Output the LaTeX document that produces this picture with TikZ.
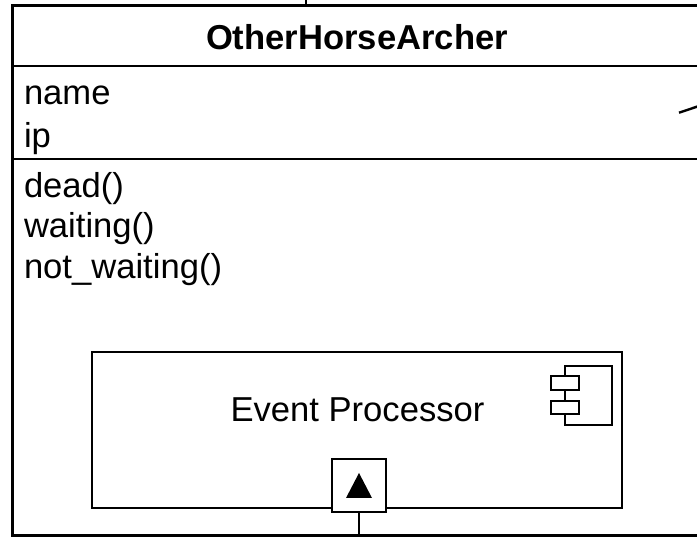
\documentclass[tikz,border=0pt]{standalone}
\usepackage{fontspec}
\setmainfont{Liberation Sans}
\begin{document}
\begin{tikzpicture}[x=1pt,y=-1pt,line join=miter,
  uml/.style={draw=black,line width=2.7pt,fill=white,inner sep=0pt,outer sep=0pt,rectangle,anchor=north west},
  wire/.style={draw=black,line width=2.7pt},
  thinwire/.style={draw=black,line width=2.4pt},
  label/.style={inner sep=0pt,outer sep=0pt,anchor=base west,font=\fontsize{34.6}{41}\selectfont},
  tri/.style={fill=black,draw=none}]
\useasboundingbox (0,0) rectangle (697,537);
\fill[white] (0,0) rectangle (697,537);
% class compartments
\node[uml,minimum width=720pt,minimum height=530pt] (class) at (12.5,5.5) {};
\draw[wire] (12.5,66) coordinate (h1) -- (720,66) coordinate (h2);
\draw[wire] (12.5,159) coordinate (a1) -- (720,159) coordinate (a2);
\node[inner sep=0pt,anchor=base,font=\fontsize{34.6}{41}\selectfont\bfseries] (title) at (357,49.5) {OtherHorseArcher};
\node[label] (attr1) at (24,105) {name};
\node[label] (attr2) at (24,147.5) {ip};
\node[label] (m1) at (24,198) {dead()};
\node[label] (m2) at (24,238) {waiting()};
\node[label] (m3) at (24,279) {not\_waiting()};
% external connectors
\coordinate (topend) at (306,0);
\draw[thinwire] (topend) -- (topend |- class.north);
\coordinate (rs) at (679,112.7);
\coordinate (re) at (705,104);
\draw[thinwire] (rs) -- (re);
% component
\node[uml,minimum width=530pt,minimum height=156pt] (comp) at (92,352) {};
\node[inner sep=0pt,anchor=base,font=\fontsize{34.6}{41}\selectfont] (complabel) at (357.5,421.5) {Event Processor};
\node[uml,minimum width=47pt,minimum height=59pt] (icon) at (565,366) {};
\node[uml,minimum width=28pt,minimum height=14pt] (pin1) at (551,376) {};
\node[uml,minimum width=28pt,minimum height=13pt] (pin2) at (551,401) {};
% port
\node[uml,minimum width=54pt,minimum height=53pt] (port) at (332,459) {};
\fill[tri] (359,473) coordinate (t1) -- (372,498) coordinate (t2) -- (346,498) coordinate (t3) -- cycle;
\draw[thinwire] (port.south) -- (port.south |- class.south);
\end{tikzpicture}
\end{document}
